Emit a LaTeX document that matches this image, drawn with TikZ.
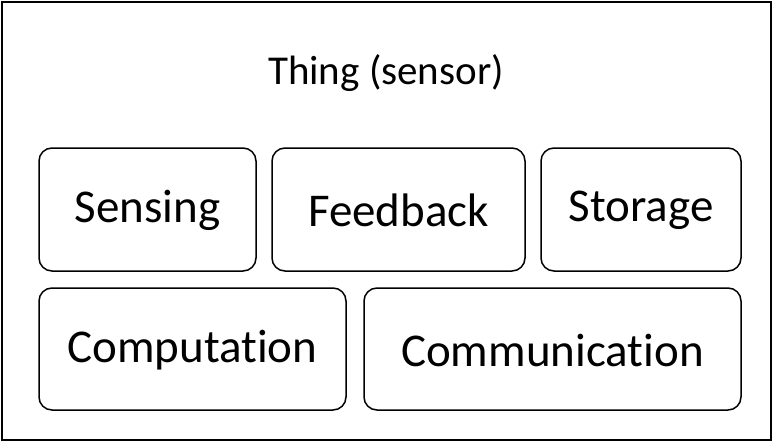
\documentclass[tikz,border=0pt]{standalone}
\usepackage{fontspec}
\setmainfont[Ligatures=NoCommon]{Carlito}
\begin{document}
\begin{tikzpicture}[x=1pt,y=-1pt,
  frame/.style={draw=black,line width=2pt},
  part/.style={draw=black,line width=1.5pt,rounded corners=13pt},
  lbl/.style={font=\fontsize{47}{56}\selectfont,inner sep=0pt,anchor=center},
  head/.style={font=\fontsize{41}{50}\selectfont,inner sep=0pt,anchor=center}]
  \useasboundingbox (0,0) rectangle (774,442);
  % outer container
  \draw[frame] (2,2) rectangle (771,440);
  \node[head] (title) at (386,73) {Thing (sensor)};
  % capability boxes, top row
  \draw[part] (39,148) rectangle (256,271);
  \node[lbl] (sensing) at (147.5,210) {Sensing};
  \draw[part] (272,148) rectangle (525,271);
  \node[lbl] (feedback) at (398.5,210) {Feedback};
  \draw[part] (541,148) rectangle (741,271);
  \node[lbl] (storage) at (641,210) {Storage};
  % bottom row
  \draw[part] (39,288) rectangle (346,410);
  \node[lbl] (computation) at (192.5,350) {Computation};
  \draw[part] (364,288) rectangle (741,410);
  \node[lbl] (communication) at (552.5,350) {Communication};
\end{tikzpicture}
\end{document}
